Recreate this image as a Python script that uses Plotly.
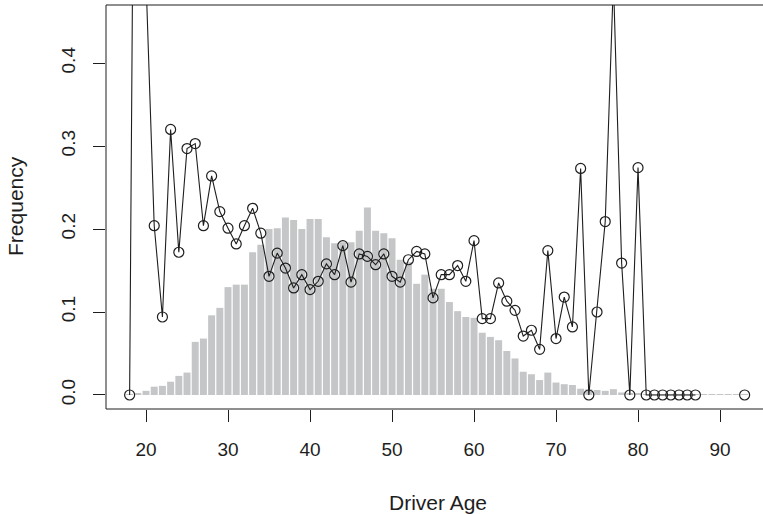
import plotly.graph_objects as go

# ---- data ----
bar_ages = list(range(18, 94))
bar_heights = [
    0.0005, 0.002, 0.005, 0.010, 0.011, 0.016, 0.023, 0.027, 0.064, 0.068,   # 18-27
    0.096, 0.105, 0.130, 0.133, 0.133, 0.172, 0.181, 0.200, 0.201, 0.214,    # 28-37
    0.211, 0.200, 0.212, 0.212, 0.190, 0.183, 0.184, 0.184, 0.198, 0.226,    # 38-47
    0.198, 0.195, 0.189, 0.163, 0.160, 0.134, 0.145, 0.128, 0.128, 0.112,    # 48-57
    0.101, 0.094, 0.093, 0.075, 0.070, 0.066, 0.053, 0.044, 0.028, 0.025,    # 58-67
    0.018, 0.027, 0.015, 0.013, 0.012, 0.0075, 0.007, 0.006, 0.005, 0.007,   # 68-77
    0.003, 0.002, 0.002, 0.001, 0.0008, 0.0008, 0.0008, 0.0008, 0.0008, 0.0008,  # 78-87
    0.0008, 0.0008, 0.0008, 0.0008, 0.0008, 0.0008,                          # 88-93
]

freq_ages = list(range(18, 94))
freq_values = [
    0.0, 1.4, 0.50, 0.204, 0.094, 0.320, 0.172, 0.297, 0.303, 0.204,          # 18-27
    0.264, 0.221, 0.201, 0.182, 0.204, 0.225, 0.195, 0.143, 0.171, 0.153,     # 28-37
    0.129, 0.145, 0.127, 0.137, 0.158, 0.145, 0.180, 0.136, 0.170, 0.167,     # 38-47
    0.157, 0.170, 0.143, 0.136, 0.163, 0.173, 0.170, 0.117, 0.145, 0.145,     # 48-57
    0.156, 0.137, 0.186, 0.092, 0.092, 0.135, 0.113, 0.102, 0.071, 0.078,     # 58-67
    0.055, 0.174, 0.068, 0.118, 0.082, 0.273, 0.0, 0.100, 0.209, 0.50,        # 68-77
    0.159, 0.0, 0.274, 0.0, 0.0, 0.0, 0.0, 0.0, 0.0, 0.0,                     # 78-87
    None, None, None, None, None, 0.0,                                        # 88-93
]

x_ticks = [20, 30, 40, 50, 60, 70, 80, 90]
y_ticks = [0.0, 0.1, 0.2, 0.3, 0.4]

x_title = "Driver Age"
y_title = "Frequency"

# ---- figure ----
ink = "#1e1e1e"
fig = go.Figure()
fig.add_trace(go.Bar(x=bar_ages, y=bar_heights, marker=dict(color="#c5c6c8", line=dict(width=0)),
                     showlegend=False, hoverinfo="skip"))
fig.add_trace(go.Scatter(x=freq_ages, y=freq_values, mode="lines+markers", connectgaps=False,
                         line=dict(color=ink, width=1.1),
                         marker=dict(symbol="circle-open", size=10, color=ink, line=dict(width=1.2)),
                         showlegend=False, cliponaxis=True))

font_family = "Liberation Sans, Arial, sans-serif"
fig.update_layout(
    width=763, height=514,
    margin=dict(l=106, r=0, t=5, b=105),
    plot_bgcolor="white", paper_bgcolor="white",
    bargap=0.15,
    font=dict(family=font_family, color=ink, size=19),
    xaxis=dict(range=[15.12, 95.24], tickvals=x_ticks, ticks="outside", ticklen=12,
               tickcolor=ink, tickwidth=1, showgrid=False, zeroline=False, showline=False,
               tickfont=dict(size=19, color=ink), ticklabelstandoff=11),
    yaxis=dict(range=[-0.0169, 0.47], tickvals=y_ticks, tickformat=".1f", ticks="outside",
               ticklen=12, tickcolor=ink, tickwidth=1, showgrid=False, zeroline=False,
               showline=False, tickangle=-90, tickfont=dict(size=19, color=ink),
               ticklabelstandoff=10),
    shapes=[dict(type="rect", xref="paper", yref="paper", x0=0, x1=1.05, y0=0, y1=1,
                 line=dict(color=ink, width=1), fillcolor="rgba(0,0,0,0)", layer="above")],
    annotations=[
        dict(text=x_title, xref="paper", yref="paper", x=0.5046, y=-0.2302,
             xanchor="center", yanchor="middle", showarrow=False,
             font=dict(size=21, color=ink, family=font_family)),
        dict(text=y_title, xref="paper", yref="paper", x=-0.1370, y=0.5025,
             xanchor="center", yanchor="middle", textangle=-90, showarrow=False,
             font=dict(size=21, color=ink, family=font_family)),
    ],
)

fig.write_html("out.html", config={"displayModeBar": False},
               post_script="document.body.style.margin='0px';document.body.style.overflow='hidden';")
